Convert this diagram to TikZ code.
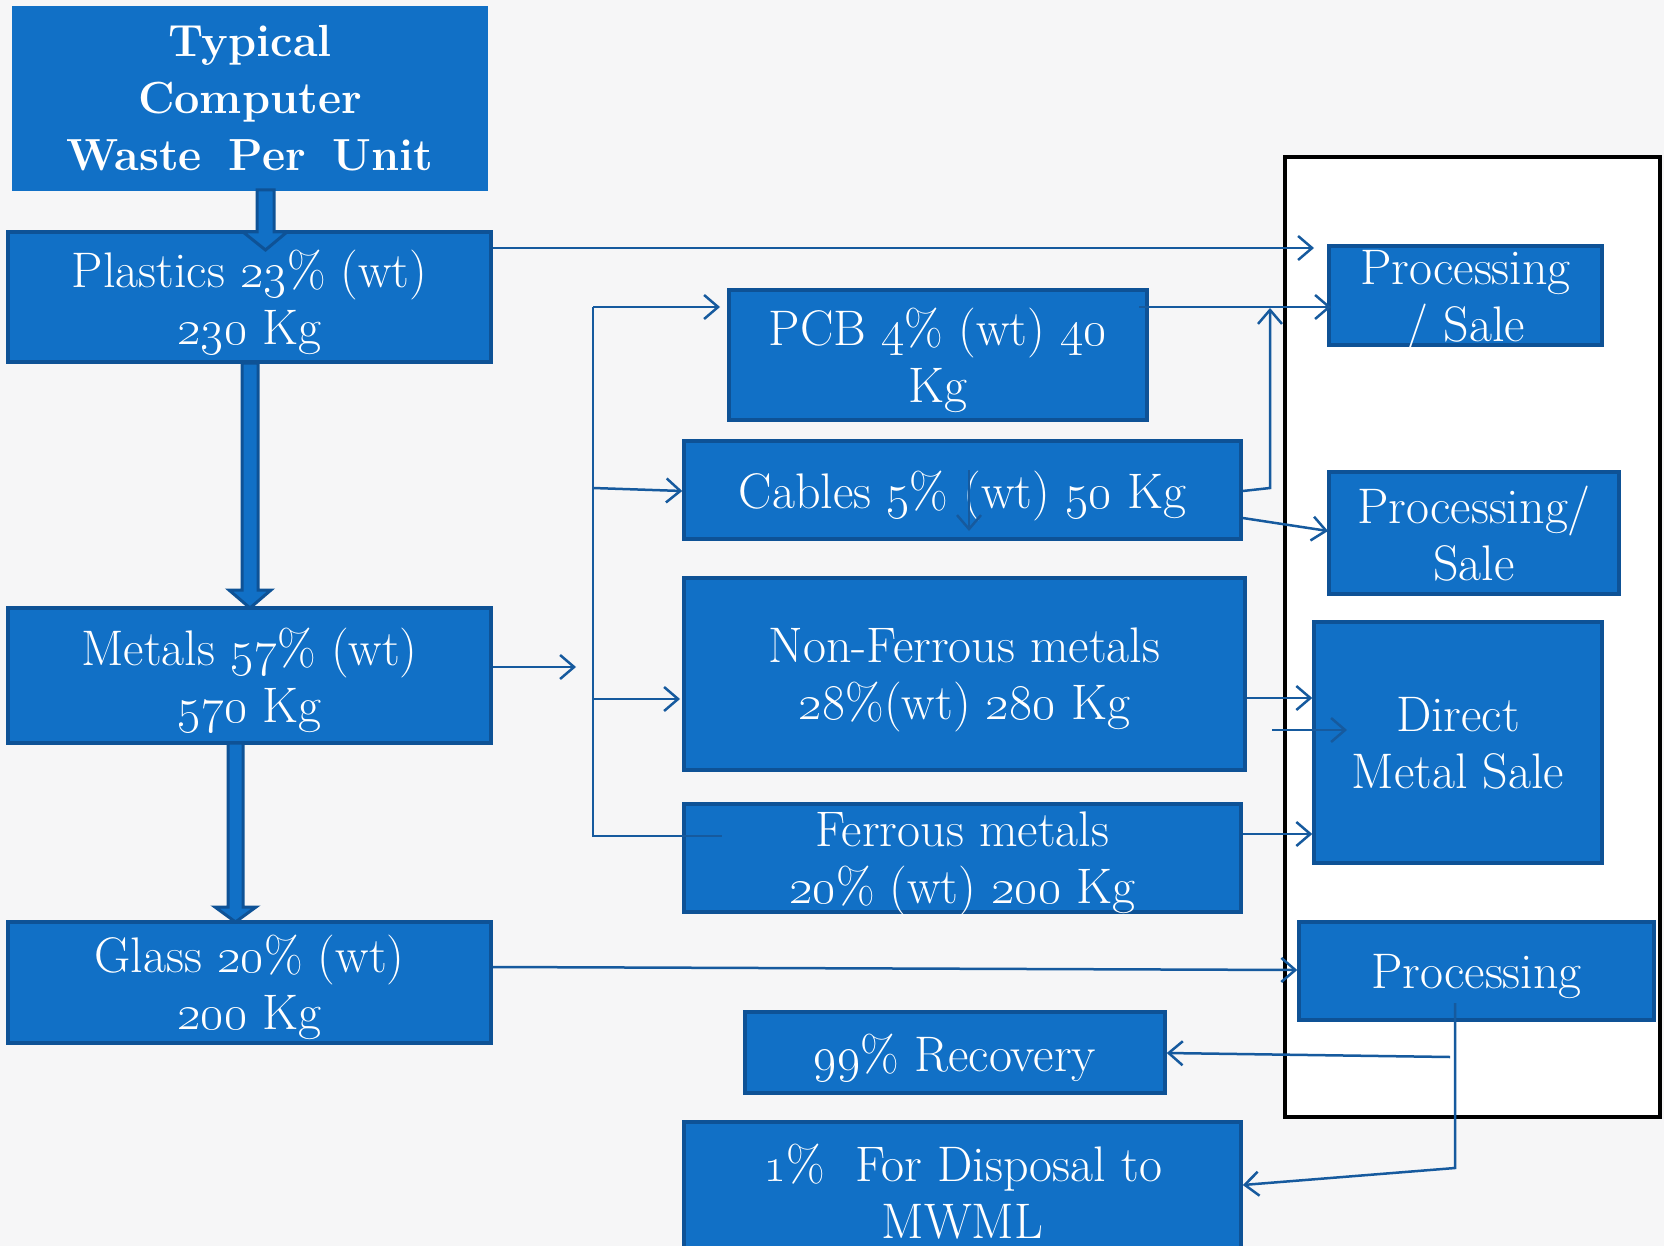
\RequirePackage{fix-cm}
\documentclass[tikz,border=0pt]{standalone}
\usetikzlibrary{arrows.meta,calc}
\definecolor{boxblue}{RGB}{17,112,198}
\definecolor{boxedge}{RGB}{14,82,150}
\definecolor{linecol}{RGB}{22,90,158}
\definecolor{bgcol}{RGB}{246,246,247}
\tikzset{
  box/.style={rectangle, fill=boxblue, draw=boxedge, line width=3.5pt, text=white,
    align=center, inner sep=0pt, text depth=0pt, font=\fontsize{50}{57}\selectfont},
  conn/.style={draw=linecol, line width=2.5pt},
  arr/.style={conn, -{Straight Barb[length=14pt,width=24pt,line width=2.5pt]}},
  blk/.style={fill=boxblue, draw=boxedge, line width=3pt, line join=miter},
}
\newcommand\os[1]{\oldstylenums{#1}}
\begin{document}
\begin{tikzpicture}[x=1pt,y=-1pt]
\useasboundingbox (0,0) rectangle (1664,1246);
\clip (0,0) rectangle (1664,1246);
\fill[bgcol] (0,0) rectangle (1664,1246);
\draw[black, line width=4pt, fill=white] (1285,157) rectangle (1660,1117);

% left column
\node[box, draw=none, text depth=, font=\bfseries\fontsize{45}{57}\selectfont,
  minimum width=476pt, minimum height=185pt] (top) at (250,98.5)
  {Typical\\Computer\\Waste\hspace{0.6em}Per\hspace{0.6em}Unit};
\node[box, minimum width=483pt, minimum height=130pt] (plast) at (249.5,297)
  {Plastics \os{23}\% (wt)\\\os{230} Kg};
\node[box, minimum width=483pt, minimum height=135pt] (metal) at (249.5,675.5)
  {Metals \os{57}\% (wt)\\\os{570} Kg};
\node[box, minimum width=483pt, minimum height=121pt] (glass) at (249.5,982.5)
  {Glass \os{20}\% (wt)\\\os{200} Kg};

% middle column
\node[box, minimum width=418pt, minimum height=130pt] (pcb) at (938,355)
  {PCB \os{4}\% (wt) \os{40}\\Kg};
\node[box, minimum width=557pt, minimum height=98pt] (cab) at (962.5,490)
  {Cables \os{5}\% (wt) \os{50} Kg};
\node[box, minimum width=561pt, minimum height=192pt] (nonf) at (964.5,674)
  {Non-Ferrous metals\\\os{28}\%(wt) \os{280} Kg};
\node[box, minimum width=557pt, minimum height=108pt] (ferr) at (962.5,858)
  {Ferrous metals\\\os{20}\% (wt) \os{200} Kg};
\node[box, minimum width=420pt, minimum height=81pt] (rec) at (955,1052.5)
  {\os{99}\% Recovery};
\node[box, minimum width=557pt, minimum height=138pt] (disp) at (962.5,1191)
  {\os{1}\%~~For Disposal to\\MWML};

% right column
\node[box, minimum width=273pt, minimum height=99pt] (ps1) at (1465.5,295.5)
  {Processing\\/ Sale};
\node[box, minimum width=290pt, minimum height=122pt] (ps2) at (1474,533)
  {Processing/\\Sale};
\node[box, minimum width=288pt, minimum height=241pt] (dms) at (1458,742.5)
  {Direct\\Metal Sale};
\node[box, minimum width=355pt, minimum height=98pt] (proc) at (1476.5,971)
  {Processing};

% block arrows
\filldraw[blk] (257,190) -- (274,190) -- (274,232) -- (287,232) -- (265.5,250)
  -- (243,232) -- (257,232) -- cycle;
\filldraw[blk] (242,363) -- (258,363) -- (258,590) -- (271,590) -- (250,608)
  -- (229,590) -- (242,590) -- cycle;
\filldraw[blk] (228,743) -- (243,743) -- (243,907) -- (256,907) -- (235.5,922)
  -- (215,907) -- (228,907) -- cycle;

% connectors
\draw[arr] (plast.east |- 0,248) -- (1314,248);
\draw[arr] (metal.east |- 0,667) -- (576,667);
\draw[conn] (593,307) -- (593,836) -- (722,836);
\draw[arr] (593,307) -- (720,307);
\draw[arr] (593,488) -- (cab.west |- 0,491);
\draw[arr] (593,699) -- (680,699);
\draw[arr] (1139,307) -- (1331,307);
\draw[arr] (cab.east |- 0,491) -- (1270,488) -- (1270,308);
\draw[arr] (cab.east |- 0,518) -- (1328,531);
\draw[arr] (969,470) -- (969,531);
\draw[arr] (nonf.east |- 0,698) -- (dms.west |- 0,698);
\draw[arr] (1272,730) -- (1347,730);
\draw[arr] (ferr.east |- 0,834) -- (dms.west |- 0,834);
\draw[arr] (glass.east |- 0,967) -- (proc.west |- 0,970);
\draw[arr] (1455,1003) -- (1455,1168) -- (disp.east |- 0,1185);
\draw[arr] (1450,1057) -- (rec.east |- 0,1053);
\end{tikzpicture}
\end{document}
